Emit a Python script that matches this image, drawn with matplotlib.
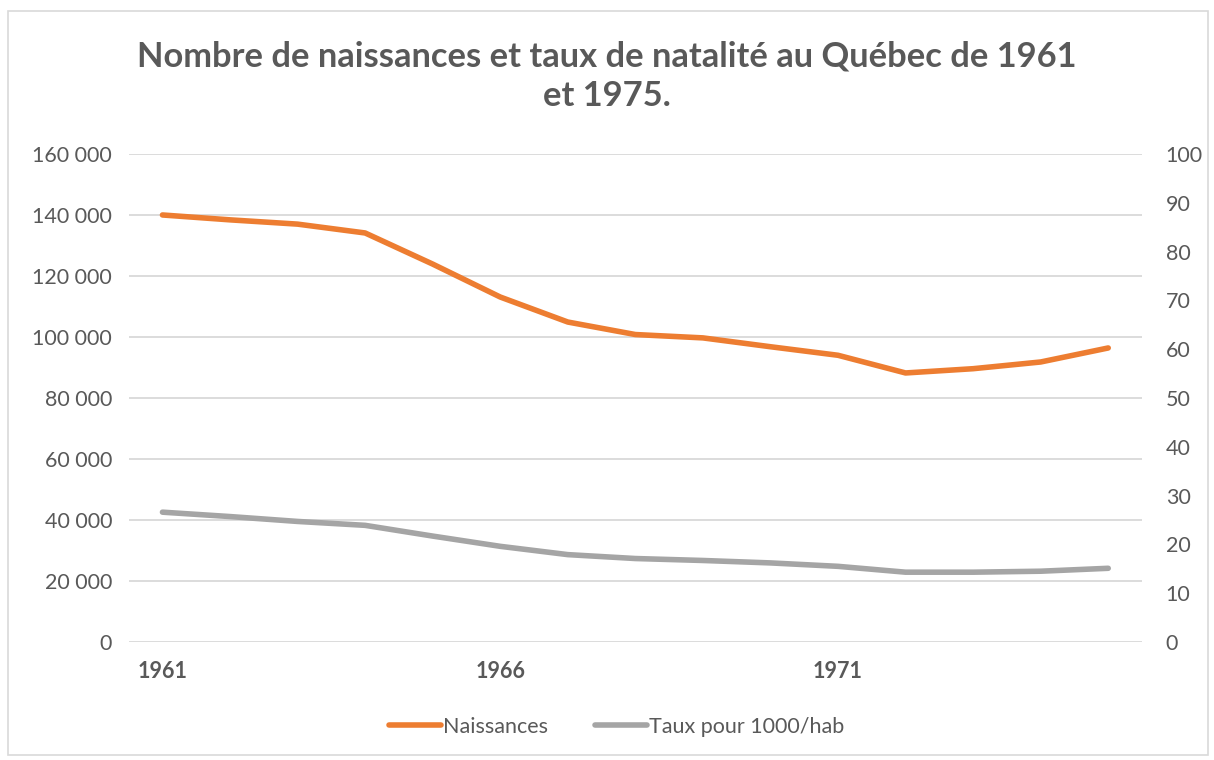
import matplotlib.pyplot as plt
from matplotlib.patches import Rectangle
from matplotlib.ticker import FuncFormatter

plt.rcParams['font.family'] = ['Lato', 'DejaVu Sans']

# Données
annees = list(range(1961, 1976))
naissances = [140000, 138400, 137000, 134100, 123900, 113100, 104900, 100800,
              99700, 96800, 94000, 88200, 89600, 91800, 96400]
taux = [26.6, 25.7, 24.7, 23.9, 21.7, 19.6, 17.9, 17.1,
        16.7, 16.2, 15.5, 14.3, 14.3, 14.5, 15.1]
annees_affichees = [1961, 1966, 1971]

gris_texte = "#595959"
orange = "#ED7D31"
gris = "#A5A5A5"
grille = "#D9D9D9"

fig = plt.figure(figsize=(12.14, 7.6), dpi=100)
ax = fig.add_axes([0.106, 0.1553, 0.8347, 0.6421])
ax2 = ax.twinx()

l1, = ax.plot(annees, naissances, color=orange, lw=4, solid_capstyle="round",
              solid_joinstyle="round", label="Naissances", zorder=3)
l2, = ax2.plot(annees, taux, color=gris, lw=4, solid_capstyle="round",
               solid_joinstyle="round", label="Taux pour 1000/hab", zorder=3)

ax.set_xlim(1960.5, 1975.5)
ax.set_ylim(0, 160000)
ax2.set_ylim(0, 100)
ax.set_yticks(range(0, 160001, 20000))
ax2.set_yticks(range(0, 101, 10))
ax.yaxis.set_major_formatter(FuncFormatter(lambda v, p: f"{int(v):,}".replace(",", " ")))

ax.grid(axis="y", color=grille, lw=1.3)
ax.set_axisbelow(True)
ax.set_xticks(annees_affichees)
ax.set_xticklabels([str(a) for a in annees_affichees], fontweight="bold")

for a in (ax, ax2):
    for s in a.spines.values():
        s.set_visible(False)
    a.tick_params(length=0, labelsize=15.5, labelcolor=gris_texte)
ax.tick_params(axis="y", pad=12)
ax2.tick_params(axis="y", pad=17)
ax.tick_params(axis="x", pad=14)
ax2.set_zorder(ax.get_zorder() + 1)
ax2.patch.set_visible(False)

fig.text(0.5, 0.947, "Nombre de naissances et taux de natalité au Québec de 1961\net 1975.",
         ha="center", va="top", fontsize=24.8, fontweight="bold", color=gris_texte,
         linespacing=1.3)

fig.legend(handles=[l1, l2], loc="center", bbox_to_anchor=(0.508, 0.044), ncol=2,
           frameon=False, fontsize=15.5, labelcolor=gris_texte, handlelength=2.4,
           handletextpad=0.1, columnspacing=2.2)

fig.patches.append(Rectangle((8 / 1214, 5 / 760), 1200 / 1214, 744 / 760,
                             transform=fig.transFigure, fill=False,
                             edgecolor=grille, lw=1.2))

fig.savefig("out.png", dpi=100, facecolor="white")
